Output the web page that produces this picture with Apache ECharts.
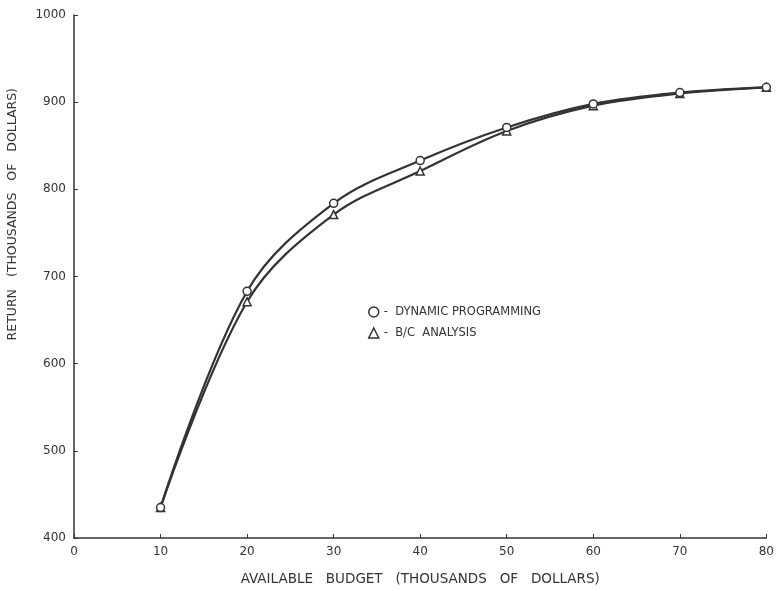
<!DOCTYPE html>
<html>
<head>
<meta charset="utf-8">
<script src="https://cdn.jsdelivr.net/npm/echarts@6/dist/echarts.min.js"></script>
<style>
  html, body { margin: 0; padding: 0; background: #fff; }
  #chart { width: 777px; height: 591px; }
</style>
</head>
<body>
<div id="chart"></div>
<script>
// budget (thousands of dollars)
const budget = [10, 20, 30, 40, 50, 60, 70, 80]
// returns (thousands of dollars)
const dynamicProg = [435, 683, 784, 833, 871, 898, 911, 917]
const bcAnalysis = [435, 671, 771, 821, 867, 896, 910, 917]

const ink = '#333'
const font = 'DejaVu Sans'

function pairs(ys) {
  return budget.map((x, i) => [x, ys[i]])
}

const chart = echarts.init(document.getElementById('chart'))

chart.setOption({
  animation: false,
  backgroundColor: '#fff',
  grid: { left: 74, right: 5, top: 15, bottom: 52 },
  graphic: [
    {
      type: 'text',
      left: 6,
      top: 88,
      rotation: Math.PI / 2,
      style: {
        text: 'RETURN   (THOUSANDS   OF   DOLLARS)',
        fill: ink,
        font: '12.5px "DejaVu Sans"'
      }
    }
  ],
  legend: {
    left: 363,
    top: 301,
    orient: 'vertical',
    itemGap: 9,
    itemWidth: 10,
    itemHeight: 10,
    textStyle: { color: ink, fontFamily: font, fontSize: 11.5 },
    formatter: name => '-  ' + name,
    data: [
      { name: 'DYNAMIC PROGRAMMING', icon: 'circle',
        itemStyle: { color: '#fff', borderColor: ink, borderWidth: 1.5 } },
      { name: 'B/C  ANALYSIS', icon: 'triangle',
        itemStyle: { color: '#fff', borderColor: ink, borderWidth: 1.5 } }
    ]
  },
  xAxis: {
    type: 'value',
    min: 0,
    max: 80,
    interval: 10,
    name: 'AVAILABLE   BUDGET   (THOUSANDS   OF   DOLLARS)',
    nameLocation: 'middle',
    nameGap: 34,
    nameTextStyle: { color: ink, fontFamily: font, fontSize: 13.5 },
    splitLine: { show: false },
    axisLine: { lineStyle: { color: ink, width: 1.5 } },
    axisTick: { inside: true, length: 4, lineStyle: { color: ink } },
    axisLabel: { color: ink, fontFamily: font, fontSize: 12, margin: 8 }
  },
  yAxis: {
    type: 'value',
    min: 400,
    max: 1000,
    interval: 100,
    splitLine: { show: false },
    axisLine: { show: true, lineStyle: { color: ink, width: 1.5 } },
    axisTick: { show: true, inside: true, length: 4, lineStyle: { color: ink } },
    axisLabel: { color: ink, fontFamily: font, fontSize: 12, margin: 8, formatter: v => String(v) }
  },
  series: [
    {
      name: 'DYNAMIC PROGRAMMING',
      type: 'line',
      smooth: 0.35,
      data: pairs(dynamicProg),
      symbol: 'circle',
      symbolSize: 8,
      lineStyle: { color: ink, width: 2.2 },
      itemStyle: { color: '#fff', borderColor: ink, borderWidth: 1.5 },
      z: 3
    },
    {
      name: 'B/C  ANALYSIS',
      type: 'line',
      smooth: 0.35,
      data: pairs(bcAnalysis),
      symbol: 'triangle',
      symbolSize: 8,
      lineStyle: { color: ink, width: 2.2 },
      itemStyle: { color: '#fff', borderColor: ink, borderWidth: 1.5 },
      z: 2
    }
  ]
})
</script>
</body>
</html>
